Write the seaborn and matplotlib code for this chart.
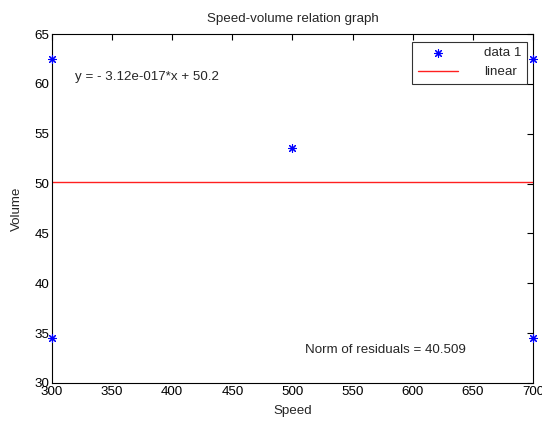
import matplotlib
matplotlib.use("Agg")
import matplotlib.pyplot as plt
import seaborn as sns
import pandas as pd

speed = [300, 300, 500, 700, 700]
volume = [62.5, 34.5, 53.6, 62.5, 34.5]
fit_x = [300, 700]
fit_y = [50.2, 50.2]
xticks = [300, 350, 400, 450, 500, 550, 600, 650, 700]
yticks = [30, 35, 40, 45, 50, 55, 60, 65]

sns.set_style("white")
plt.rcParams['font.family'] = ['Liberation Sans', 'DejaVu Sans']
FS = 9.6
plt.rcParams['font.size'] = FS

fig = plt.figure(figsize=(5.42, 4.21), dpi=100)
ax = fig.add_axes([0.0959, 0.0903, 0.8875, 0.8289])

df = pd.DataFrame({"Speed": speed, "Volume": volume})
fdf = pd.DataFrame({"x": fit_x, "y": fit_y})

sns.scatterplot(data=df, x="Speed", y="Volume", ax=ax, marker=(8, 2, 0),
                color="blue", edgecolor="blue", linewidth=0.8, s=32,
                label="data 1", clip_on=False, zorder=5)
sns.lineplot(data=fdf, x="x", y="y", ax=ax, color="#ff2020", linewidth=1.0,
             label="linear")

ax.set_xlim(300, 700)
ax.set_ylim(30, 65)
ax.set_xticks(xticks)
ax.set_yticks(yticks)
ax.tick_params(direction="in", top=True, right=True, length=4, width=0.8,
               labelsize=FS, colors="black", pad=2)
for sp in ax.spines.values():
    sp.set_visible(True)
    sp.set_color("black")
    sp.set_linewidth(0.8)

ax.set_xlabel("Speed", fontsize=FS, labelpad=5)
ax.set_ylabel("Volume", fontsize=FS, labelpad=8)
ax.set_title("Speed-volume relation graph", fontsize=FS, pad=9)

ax.text(319, 60.7, "y = - 3.12e-017*x + 50.2", fontsize=FS, va="center", ha="left")
ax.text(510, 33.3, "Norm of residuals = 40.509", fontsize=FS, va="center", ha="left")

leg = ax.legend(loc="upper right", bbox_to_anchor=(0.9875, 0.978), fancybox=False,
                frameon=True, edgecolor="black", fontsize=FS, markerfirst=True,
                borderpad=0.4, labelspacing=0.5, handlelength=3.0,
                handletextpad=2.0, borderaxespad=0.0)
leg.get_frame().set_linewidth(0.8)
for t in leg.get_texts():
    t.set_ha("right")

fig.savefig("out.png", dpi=100)
